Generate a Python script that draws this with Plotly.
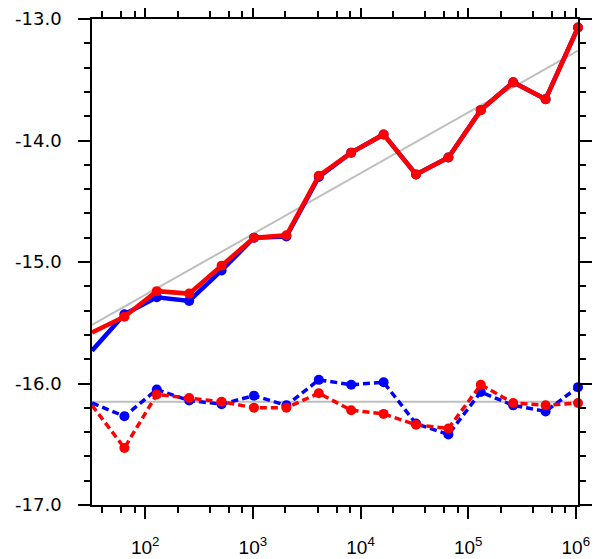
import numpy as np
import plotly.graph_objects as go

# sample sizes (powers of two)
n_values = [2**k for k in range(5, 21)]

blue_solid = [-15.73, -15.43, -15.29, -15.32, -15.07, -14.80, -14.79, -14.30,
              -14.10, -13.95, -14.28, -14.14, -13.75, -13.52, -13.66, -13.07]
red_solid = [-15.58, -15.45, -15.24, -15.26, -15.03, -14.80, -14.78, -14.29,
             -14.10, -13.95, -14.28, -14.14, -13.75, -13.52, -13.66, -13.07]
blue_dotted = [-16.16, -16.27, -16.05, -16.14, -16.17, -16.10, -16.18, -15.97,
               -16.01, -15.99, -16.33, -16.42, -16.07, -16.18, -16.23, -16.03]
red_dotted = [-16.18, -16.53, -16.09, -16.12, -16.15, -16.20, -16.20, -16.08,
              -16.22, -16.25, -16.34, -16.37, -16.01, -16.16, -16.18, -16.16]

# reference lines
fit_intercept = -16.27
fit_slope = 0.5
flat_level = -16.15

x_major = [1e2, 1e3, 1e4, 1e5, 1e6]
x_major_text = ["10<sup>2</sup>", "10<sup>3</sup>", "10<sup>4</sup>",
                "10<sup>5</sup>", "10<sup>6</sup>"]
x_minor = [m * 10**k for k in range(1, 6) for m in (2, 4, 6, 8)]
y_major = [-17.0, -16.0, -15.0, -14.0, -13.0]
y_major_text = ["-17.0", "-16.0", "-15.0", "-14.0", "-13.0"]

x_ends = [n_values[0], n_values[-1]]
fit_y = [fit_intercept + fit_slope * np.log10(v) for v in x_ends]

fig = go.Figure()
GRAY = "#bebebe"
fig.add_trace(go.Scatter(x=x_ends, y=fit_y, mode="lines",
                         line=dict(color=GRAY, width=2), hoverinfo="skip"))
fig.add_trace(go.Scatter(x=x_ends, y=[flat_level, flat_level], mode="lines",
                         line=dict(color=GRAY, width=2), hoverinfo="skip"))
fig.add_trace(go.Scatter(x=n_values, y=blue_dotted, mode="lines+markers",
                         line=dict(color="#0000ff", width=3.5, dash="7px,4px"),
                         marker=dict(color="#0000ff", size=10), cliponaxis=False))
fig.add_trace(go.Scatter(x=n_values, y=red_dotted, mode="lines+markers",
                         line=dict(color="#ff0000", width=3.5, dash="7px,4px"),
                         marker=dict(color="#ff0000", size=10), cliponaxis=False))
fig.add_trace(go.Scatter(x=n_values, y=blue_solid, mode="lines+markers",
                         line=dict(color="#0000ff", width=4.5),
                         marker=dict(color="#0000ff", size=10), cliponaxis=False))
fig.add_trace(go.Scatter(x=n_values, y=red_solid, mode="lines+markers",
                         line=dict(color="#ff0000", width=4.5),
                         marker=dict(color="#ff0000", size=10), cliponaxis=False))

fig.update_layout(
    width=594, height=551,
    margin=dict(l=84, r=24, t=11, b=54, autoexpand=False),
    plot_bgcolor="white", paper_bgcolor="white",
    showlegend=False,
)
fig.update_xaxes(
    type="log", automargin=False,
    range=[np.log10(n_values[0]), np.log10(n_values[-1])],
    tickmode="array", tickvals=x_major, ticktext=x_major_text,
    ticks="outside", ticklen=12, tickwidth=1.5, tickcolor="black",
    showline=True, linecolor="black", linewidth=1.5, mirror="ticks",
    showgrid=False, zeroline=False,
    tickfont=dict(family="Liberation Sans", size=19, color="black"),
    ticklabelstandoff=12,
    minor=dict(tickmode="array", tickvals=x_minor, ticks="outside",
               ticklen=6, tickwidth=1.5, tickcolor="black", showgrid=False),
)
fig.update_yaxes(
    range=[-17, -13], automargin=False,
    tickmode="array", tickvals=y_major, ticktext=y_major_text,
    ticks="outside", ticklen=12, tickwidth=1.5, tickcolor="black",
    showline=True, linecolor="black", linewidth=1.5, mirror="ticks",
    showgrid=False, zeroline=False,
    tickfont=dict(family="DejaVu Sans", size=18, color="black"),
    ticklabelstandoff=13,
    minor=dict(dtick=0.2, ticks="outside", ticklen=6, tickwidth=1.5,
               tickcolor="black", showgrid=False),
)

fig.write_html("out.html")
